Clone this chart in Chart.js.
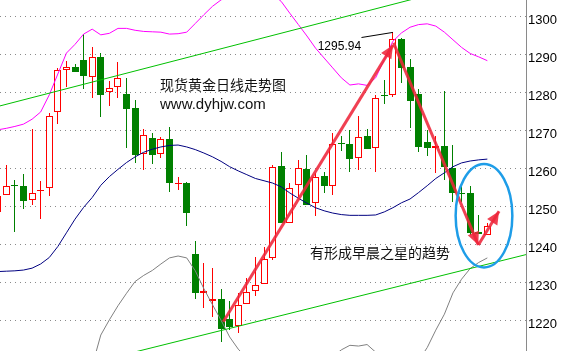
<!DOCTYPE html>
<html>
<head>
<meta charset="utf-8">
<title>现货黄金日线走势图</title>
<script src="https://cdn.jsdelivr.net/npm/chart.js@4/dist/chart.umd.min.js"></script>
<style>
  html, body { margin: 0; padding: 0; background: #fff; overflow: hidden; }
  #wrap { width: 561px; height: 351px; }
</style>
</head>
<body>
<div id="wrap"><canvas id="chart" width="561" height="351"></canvas></div>
<script>
// Daily spot gold candles (index 0 is the oldest bar, partly cut off at the left edge)
const opens  = [1248.8,1253.1,1255.8,1255.5,1251.8,1254.2,1254.9,1274.9,1286.1,1286.8,
                1288.7,1284.3,1289.4,1280.2,1281.7,1279.7,1276.0,1263.9,1268.1,1263.9,
                1267.9,1256.0,1256.2,1237.6,1227.3,1225.3,1225.8,1220.5,1218.7,1224.4,
                1227.8,1229.8,1236.7,1260.8,1245.7,1255.7,1259.9,1251.0,1258.2,1255.5,
                1266.9,1266.6,1262.8,1268.7,1265.4,1279.5,1279.4,1294.1,1286.8,1279.7,
                1267.2,1265.4,1266.1,1260.3,1253.8,1253.7,1243.4,1242.6];
const highs  = [1254.0,1261.0,1257.1,1258.7,1270.5,1256.8,1274.8,1286.6,1288.5,1287.7,
                1295.5,1292.2,1290.6,1283.2,1288.2,1283.9,1278.2,1270.5,1269.4,1268.5,
                1271.0,1258.0,1256.7,1241.1,1235.2,1234.0,1228.4,1225.3,1227.3,1231.4,
                1236.9,1239.6,1261.0,1264.6,1256.2,1262.4,1263.7,1258.9,1259.3,1269.4,
                1268.7,1270.3,1274.0,1270.4,1279.5,1283.4,1295.94,1294.5,1288.9,1281.0,
                1270.3,1268.6,1280.6,1266.3,1256.0,1255.4,1247.9,1245.8];
const lows   = [1247.0,1253.1,1243.5,1249.5,1250.4,1246.9,1253.0,1271.9,1281.5,1285.4,
                1281.1,1278.8,1273.8,1276.7,1278.6,1265.4,1261.5,1259.7,1261.2,1263.0,
                1254.0,1254.6,1245.1,1225.7,1223.5,1221.0,1214.5,1217.5,1216.8,1224.4,
                1226.7,1229.7,1236.1,1245.9,1245.7,1252.7,1250.6,1247.7,1253.8,1253.1,
                1264.8,1259.3,1259.7,1265.2,1259.3,1277.2,1279.0,1282.5,1270.7,1264.6,
                1263.5,1258.9,1257.1,1251.2,1251.2,1242.6,1242.8,1242.5];
const closes = [1252.9,1255.5,1255.4,1251.7,1253.6,1254.5,1273.9,1286.1,1286.8,1285.4,
                1284.6,1289.4,1279.6,1281.2,1283.9,1275.7,1263.7,1268.9,1263.8,1267.8,
                1256.2,1256.3,1248.3,1227.3,1227.8,1225.8,1218.0,1218.4,1224.2,1227.5,
                1229.4,1236.2,1260.6,1245.9,1254.9,1260.2,1250.6,1257.8,1255.4,1266.6,
                1266.5,1262.7,1268.3,1265.2,1278.8,1279.1,1294.1,1286.7,1278.0,1265.9,
                1265.6,1266.1,1260.6,1253.8,1253.4,1243.2,1242.9,1245.0];

// Bollinger bands
const upperBand  = [1270.3,1270.7,1271.2,1271.8,1273.1,1275.0,1279.5,1285.0,1290.5,1292.8,
                    1295.5,1296.8,1295.3,1295.7,1297.0,1297.0,1296.5,1296.2,1296.1,1296.0,
                    1295.5,1295.6,1296.0,1298.3,1300.6,1302.8,1304.5,1305.6,1306.4,1306.9,
                    1307.1,1306.8,1306.0,1304.1,1301.0,1298.0,1295.0,1291.8,1289.2,1286.6,
                    1284.0,1282.1,1282.4,1282.0,1284.0,1288.8,1293.6,1295.8,1297.3,1298.0,
                    1298.2,1297.6,1296.0,1294.0,1292.0,1290.4,1289.5,1288.5];
const middleBand = [1233.0,1233.1,1233.2,1233.4,1233.9,1235.0,1236.7,1239.6,1243.2,1246.8,
                    1249.9,1252.5,1255.7,1258.0,1259.9,1261.7,1263.2,1264.4,1265.2,1265.8,
                    1266.2,1266.3,1265.8,1265.1,1264.2,1263.2,1262.0,1260.6,1259.5,1258.5,
                    1257.5,1256.9,1256.3,1255.3,1253.7,1252.3,1251.0,1249.8,1249.0,1248.4,
                    1248.0,1247.8,1247.8,1247.8,1247.9,1248.7,1249.8,1251.1,1252.1,1253.8,
                    1255.6,1257.5,1259.0,1260.6,1261.6,1262.1,1262.4,1262.6];
const lowerBand  = [1195.7,1195.5,1195.2,1195.0,1194.7,1195.0,1193.9,1194.2,1195.9,1200.8,
                    1204.3,1208.2,1216.3,1220.3,1224.0,1227.3,1230.4,1232.0,1233.3,1235.0,
                    1236.6,1237.1,1236.6,1233.2,1228.5,1224.3,1220.2,1215.8,1212.6,1210.2,
                    1207.9,1207.0,1206.6,1206.5,1206.4,1206.6,1207.0,1207.8,1208.8,1210.6,
                    1212.4,1213.6,1213.4,1213.8,1211.8,1208.6,1206.0,1206.4,1206.9,1209.6,
                    1213.0,1217.6,1221.8,1227.4,1231.0,1233.8,1235.4,1236.6];

// Price axis
const yTicks = [1220, 1230, 1240, 1250, 1260, 1270, 1280, 1290, 1300];
const priceMin = 1212.1;
const priceMax = 1304.47;

// Channel lines, arrows and the high marker as [barIndex, price] pairs
const upperTrend   = [[-1, 1275.86], [62, 1312.68]];
const lowerTrend   = [[15, 1211.3], [62, 1237.75]];
const arrowRise    = [[26.26, 1219.8], [46.02, 1292.6]];
const arrowFall    = [[46.08, 1293.2], [55.95, 1240.0]];
const arrowRebound = [[55.95, 1240.0], [58.36, 1248.9]];
const highMarker   = [[42.35, 1294.6], [46.0, 1295.94]];

// Ring around the last three bars: centre [barIndex, price] and radii in the same units
const ringCentre = [56.61, 1247.7];
const ringRadius = [3.3, 13.6];

// Text notes: [text, barIndex, price]
const highLabel = ['1295.94', 37.25, 1292.2];
const titleNote = ['现货黄金日线走势图', 18.89, 1282.1];
const siteNote  = ['www.dyhjw.com', 18.89, 1276.8];
const trendNote = ['有形成早晨之星的趋势', 36.35, 1238.0];

const UP = '#ff0000', DOWN = '#008000';
const ARROW = 'rgba(238, 38, 58, 0.88)';

const idx = opens.map((_, i) => i);
const isUp = idx.map(i => closes[i] >= opens[i]);
const pts = arr => arr.map(p => ({ x: p[0], y: p[1] }));
const band = arr => arr.map((v, i) => ({ x: i, y: v }));

const lineStyle = (color, width) => ({
  type: 'line', borderColor: color, borderWidth: width, pointRadius: 0,
  tension: 0, fill: false, borderCapStyle: 'butt'
});

const datasets = [
  { // candle wicks
    type: 'bar', order: 10, grouped: false, barThickness: 1, inflateAmount: 0,
    borderWidth: 0, backgroundColor: idx.map(i => isUp[i] ? UP : DOWN),
    data: idx.map(i => ({ x: i, y: [lows[i], highs[i]] }))
  },
  { // candle bodies: hollow red for rising days, solid green for falling days
    type: 'bar', order: 9, grouped: false, barThickness: 7, inflateAmount: 0,
    borderWidth: 1, borderSkipped: false,
    borderColor: idx.map(i => isUp[i] ? UP : DOWN),
    backgroundColor: idx.map(i => isUp[i] ? '#ffffff' : DOWN),
    data: idx.map(i => ({ x: i, y: [opens[i], closes[i]] }))
  },
  Object.assign(lineStyle('#ff00ff', 1), { order: 6, data: band(upperBand) }),
  Object.assign(lineStyle('#000080', 1), { order: 6, data: band(middleBand) }),
  Object.assign(lineStyle('#808080', 1), { order: 6, data: band(lowerBand) }),
  Object.assign(lineStyle('#00c000', 1), { order: 5, data: pts(upperTrend) }),
  Object.assign(lineStyle('#00c000', 1), { order: 5, data: pts(lowerTrend) }),
  Object.assign(lineStyle('#000000', 1), { order: 4, data: pts(highMarker) }),
  Object.assign(lineStyle(ARROW, 3), { order: 1, data: pts(arrowRise) }),
  Object.assign(lineStyle(ARROW, 3), { order: 1, data: pts(arrowFall) }),
  Object.assign(lineStyle(ARROW, 3), { order: 1, data: pts(arrowRebound) })
];

// Snap candle rectangles to whole pixels so wicks and body outlines stay crisp
const pixelSnap = {
  id: 'pixelSnap',
  beforeDatasetDraw(chart, args) {
    if (args.meta.type !== 'bar') return;
    args.meta.data.forEach(el => {
      el.x = Math.round(el.x - 0.5) + 0.5;
      const top = Math.round(Math.min(el.y, el.base));
      let bottom = Math.round(Math.max(el.y, el.base));
      if (bottom - top < 1) bottom = top + 1;
      el.y = top;
      el.base = bottom;
    });
  }
};

// Arrow heads, the ring and the text notes, placed through the chart scales
const overlay = {
  id: 'overlay',
  afterDatasetsDraw(chart) {
    const { ctx, scales: { x, y } } = chart;
    const px = p => [x.getPixelForValue(p[0]), y.getPixelForValue(p[1])];
    ctx.save();

    [arrowRise, arrowFall, arrowRebound].forEach(seg => {
      const [x0, y0] = px(seg[0]);
      const [x1, y1] = px(seg[1]);
      const a = Math.atan2(y1 - y0, x1 - x0);
      const len = 13, half = 6;
      const bx = x1 - len * Math.cos(a), by = y1 - len * Math.sin(a);
      ctx.beginPath();
      ctx.moveTo(x1, y1);
      ctx.lineTo(bx + half * Math.sin(a), by - half * Math.cos(a));
      ctx.lineTo(bx - half * Math.sin(a), by + half * Math.cos(a));
      ctx.closePath();
      ctx.fillStyle = ARROW;
      ctx.fill();
    });

    const [cx, cy] = px(ringCentre);
    const rx = Math.abs(x.getPixelForValue(ringCentre[0] + ringRadius[0]) - cx);
    const ry = Math.abs(y.getPixelForValue(ringCentre[1] + ringRadius[1]) - cy);
    ctx.beginPath();
    ctx.ellipse(cx, cy, rx, ry, 0, 0, Math.PI * 2);
    ctx.strokeStyle = '#1e9de8';
    ctx.lineWidth = 2.5;
    ctx.stroke();

    const note = (n, font, color) => {
      const [tx, ty] = px([n[1], n[2]]);
      ctx.font = font;
      ctx.fillStyle = color;
      ctx.textAlign = 'left';
      ctx.textBaseline = 'middle';
      ctx.fillText(n[0], tx, ty);
    };
    note(highLabel, "12px 'Liberation Sans', Arial, sans-serif", '#000');
    note(titleNote, "14px 'Noto Sans CJK SC', sans-serif", '#111');
    note(siteNote, "15px 'Liberation Sans', Arial, sans-serif", '#111');
    note(trendNote, "14px 'Noto Sans CJK SC', sans-serif", '#111');

    ctx.restore();
  }
};

new Chart(document.getElementById('chart'), {
  type: 'bar',
  data: { datasets },
  options: {
    responsive: false,
    animation: false,
    devicePixelRatio: 1,
    events: [],
    layout: { padding: 0 },
    plugins: { legend: { display: false }, tooltip: { enabled: false } },
    scales: {
      x: { type: 'linear', min: 0.2666, max: 61.5, offset: false, display: false },
      y: {
        position: 'right',
        min: priceMin, max: priceMax, beginAtZero: false,
        afterBuildTicks: s => { s.ticks = yTicks.map(v => ({ value: v })); },
        afterFit: s => { s.width = 35; s.paddingTop = 0; s.paddingBottom = 0; },
        grid: { color: '#8a8a8a', lineWidth: 1, drawTicks: false },
        border: { display: true, color: '#8a8a8a', width: 1, dash: [1, 4] },
        ticks: {
          color: '#000', padding: 2, labelOffset: 3.5,
          callback: v => String(v),
          font: { family: "'Liberation Sans', Arial, sans-serif", size: 13 }
        }
      }
    }
  },
  plugins: [pixelSnap, overlay]
});
</script>
</body>
</html>
